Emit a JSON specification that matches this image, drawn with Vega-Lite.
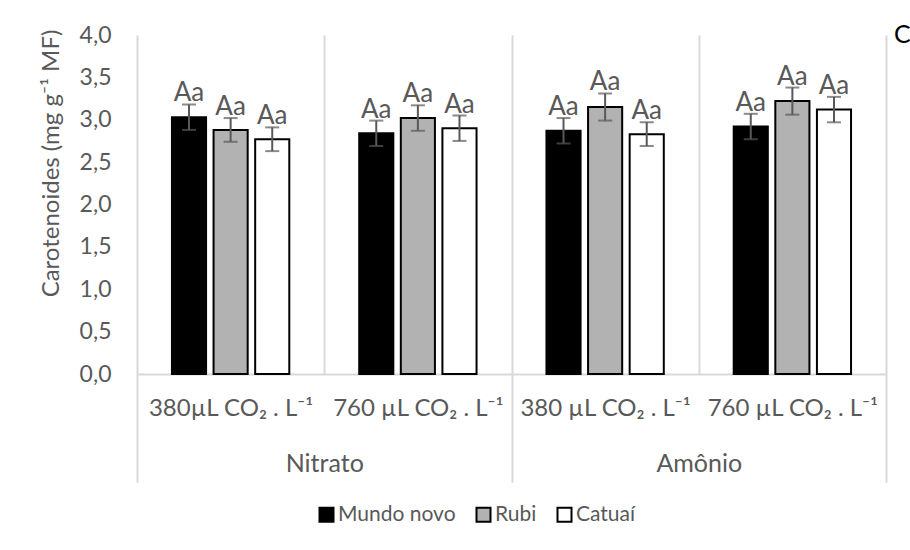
{
  "$schema": "https://vega.github.io/schema/vega-lite/v6.json",
  "autosize": {"type": "none"},
  "padding": {"left": 137, "top": 35, "right": 24, "bottom": 176},
  "width": 749,
  "height": 339,
  "title": {
    "text": "C",
    "anchor": "end",
    "frame": "group",
    "align": "left",
    "dx": 8,
    "dy": 14,
    "offset": -30,
    "baseline": "alphabetic",
    "font": "Lato",
    "fontSize": 25,
    "fontWeight": "normal",
    "color": "black"
  },
  "config": {
    "view": {"stroke": null},
    "font": "Lato",
    "axis": {
      "labelFont": "Lato",
      "titleFont": "Lato",
      "labelColor": "#595959",
      "titleColor": "#595959",
      "labelFontSize": 23,
      "titleFontSize": 24,
      "titleFontWeight": "normal"
    },
    "legend": {"labelFont": "Lato", "labelColor": "#595959", "labelFontSize": 21}
  },
  "data": {
    "values": [
      {"trat": "N380", "nitrogenio": "Nitrato", "cultivar": "Mundo novo", "valor": 3.03, "inf": 2.88, "sup": 3.18, "letra": "Aa"},
      {"trat": "N380", "nitrogenio": "Nitrato", "cultivar": "Rubi", "valor": 2.88, "inf": 2.74, "sup": 3.02, "letra": "Aa"},
      {"trat": "N380", "nitrogenio": "Nitrato", "cultivar": "Catuaí", "valor": 2.77, "inf": 2.63, "sup": 2.91, "letra": "Aa"},
      {"trat": "N760", "nitrogenio": "Nitrato", "cultivar": "Mundo novo", "valor": 2.84, "inf": 2.69, "sup": 2.99, "letra": "Aa"},
      {"trat": "N760", "nitrogenio": "Nitrato", "cultivar": "Rubi", "valor": 3.02, "inf": 2.87, "sup": 3.17, "letra": "Aa"},
      {"trat": "N760", "nitrogenio": "Nitrato", "cultivar": "Catuaí", "valor": 2.90, "inf": 2.75, "sup": 3.05, "letra": "Aa"},
      {"trat": "A380", "nitrogenio": "Amônio", "cultivar": "Mundo novo", "valor": 2.87, "inf": 2.72, "sup": 3.02, "letra": "Aa"},
      {"trat": "A380", "nitrogenio": "Amônio", "cultivar": "Rubi", "valor": 3.15, "inf": 2.99, "sup": 3.31, "letra": "Aa"},
      {"trat": "A380", "nitrogenio": "Amônio", "cultivar": "Catuaí", "valor": 2.83, "inf": 2.69, "sup": 2.97, "letra": "Aa"},
      {"trat": "A760", "nitrogenio": "Amônio", "cultivar": "Mundo novo", "valor": 2.92, "inf": 2.77, "sup": 3.07, "letra": "Aa"},
      {"trat": "A760", "nitrogenio": "Amônio", "cultivar": "Rubi", "valor": 3.22, "inf": 3.06, "sup": 3.38, "letra": "Aa"},
      {"trat": "A760", "nitrogenio": "Amônio", "cultivar": "Catuaí", "valor": 3.12, "inf": 2.97, "sup": 3.27, "letra": "Aa"}
    ]
  },
  "resolve": {"scale": {"x": "independent"}, "axis": {"x": "independent"}},
  "layer": [
    {
      "encoding": {
        "x": {
          "field": "trat",
          "type": "nominal",
          "sort": ["N380", "N760", "A380", "A760"],
          "scale": {"type": "band", "paddingInner": 0, "paddingOuter": 0},
          "axis": {
            "title": null,
            "orient": "bottom",
            "labelAngle": 0,
            "ticks": false,
            "tickBand": "extent",
            "grid": true,
            "gridColor": "#d9d9d9",
            "gridWidth": 2,
            "domainColor": "#d9d9d9",
            "domainWidth": 2,
            "labelPadding": 22,
            "labelFontSize": 24,
            "labelExpr": "datum.value == 'N380' ? '380µL CO₂ . L⁻¹' : datum.value == 'N760' ? '760 µL CO₂ . L⁻¹' : datum.value == 'A380' ? '380 µL CO₂ . L⁻¹' : datum.value == 'A760' ? '760 µL CO₂ . L⁻¹' : ''"
          }
        },
        "xOffset": {
          "field": "cultivar",
          "type": "nominal",
          "sort": ["Mundo novo", "Rubi", "Catuaí"],
          "scale": {"paddingInner": 0.18, "paddingOuter": 0.84}
        }
      },
      "layer": [
        {
          "mark": {"type": "bar", "stroke": "black", "strokeWidth": 2},
          "encoding": {
            "y": {
              "field": "valor",
              "type": "quantitative",
              "title": "Carotenoides (mg g⁻¹ MF)",
              "scale": {"domain": [0, 4]},
              "axis": {
                "values": [0, 0.5, 1, 1.5, 2, 2.5, 3, 3.5, 4],
                "labelExpr": "replace(format(datum.value, '.1f'), '.', ',')",
                "ticks": false,
                "domain": false,
                "grid": false,
                "labelPadding": 26,
                "titleAngle": -90,
                "titleX": -79,
                "titleY": 128,
                "titleAlign": "center",
                "titleBaseline": "alphabetic"
              }
            },
            "fill": {
              "field": "cultivar",
              "type": "nominal",
              "sort": ["Mundo novo", "Rubi", "Catuaí"],
              "scale": {"domain": ["Mundo novo", "Rubi", "Catuaí"], "range": ["#000000", "#b2b2b2", "#ffffff"]},
              "legend": {
                "title": null,
                "orient": "none",
                "direction": "horizontal",
                "legendX": 179,
                "legendY": 469,
                "symbolType": "square",
                "symbolSize": 196,
                "symbolStrokeColor": "black",
                "symbolStrokeWidth": 2,
                "labelOffset": 1,
                "columnPadding": 16,
                "padding": 0
              }
            }
          }
        },
        {
          "mark": {
            "type": "errorbar",
            "color": "#595959",
            "thickness": 2,
            "ticks": {"size": 14, "thickness": 2, "color": "#595959"}
          },
          "encoding": {
            "y": {"field": "inf", "type": "quantitative", "title": "Carotenoides (mg g⁻¹ MF)"},
            "y2": {"field": "sup"}
          }
        },
        {
          "mark": {"type": "text", "baseline": "alphabetic", "dy": -3, "fontSize": 26, "color": "#595959"},
          "encoding": {
            "y": {"field": "sup", "type": "quantitative", "title": "Carotenoides (mg g⁻¹ MF)"},
            "text": {"field": "letra"}
          }
        }
      ]
    },
    {
      "mark": {"type": "rule", "opacity": 0},
      "encoding": {
        "x": {
          "field": "nitrogenio",
          "type": "nominal",
          "sort": ["Nitrato", "Amônio"],
          "scale": {"type": "band", "paddingInner": 0, "paddingOuter": 0},
          "axis": {
            "title": null,
            "orient": "bottom",
            "labelAngle": 0,
            "labelFontSize": 25,
            "domain": false,
            "grid": false,
            "ticks": true,
            "tickBand": "extent",
            "tickSize": 108,
            "tickColor": "#d9d9d9",
            "tickWidth": 2,
            "labelPadding": -31
          }
        }
      }
    }
  ]
}
